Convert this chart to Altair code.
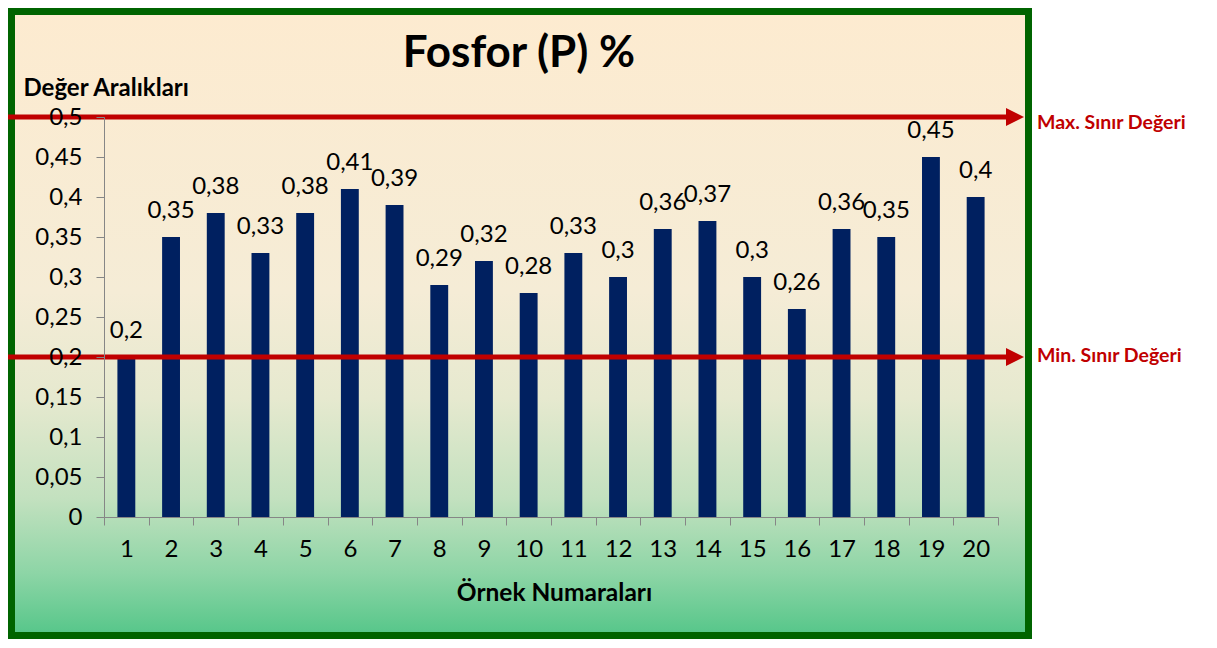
import altair as alt
import pandas as pd

samples = [str(i) for i in range(1, 21)]
values = [0.20, 0.35, 0.38, 0.33, 0.38, 0.41, 0.39, 0.29, 0.32, 0.28,
          0.33, 0.30, 0.36, 0.37, 0.30, 0.26, 0.36, 0.35, 0.45, 0.40]
value_labels = [str(v).replace(".", ",") for v in values]
y_ticks = [0, 0.05, 0.1, 0.15, 0.2, 0.25, 0.3, 0.35, 0.4, 0.45, 0.5]
max_name, max_value = "Max. Sınır Değeri", 0.5
min_name, min_value = "Min. Sınır Değeri", 0.2
title_text = "Fosfor (P) %"
y_title = "Değer Aralıkları"
x_title = "Örnek Numaraları"

W, H = 894, 400
FONT = "Lato"
RED = "#C00000"

df = pd.DataFrame({"sample": samples, "value": values, "label": value_labels})
limits = pd.DataFrame({"value": [max_value, min_value], "name": [max_name, min_name]})
one = pd.DataFrame({"k": [0]})

x_enc = alt.X(
    "sample:N", sort=samples,
    scale=alt.Scale(paddingInner=0, paddingOuter=0),
    axis=alt.Axis(
        title=x_title, labelAngle=0, tickBand="extent", tickSize=8,
        domainColor="#868686", tickColor="#868686", domainWidth=1,
        labelFont=FONT, labelFontSize=24, labelColor="black", labelPadding=12,
        titleFont=FONT, titleFontSize=24.5, titleFontWeight="bold", titleColor="black",
        titleX=450, titleY=83, titleBaseline="alphabetic", titleAlign="center",
        zindex=1,
    ),
)
y_axis = alt.Axis(
    values=y_ticks, tickCount=11, grid=False, tickSize=8, labelOverlap=False,
    labelExpr="replace(format(datum.value, '.2~f'), '.', ',')",
    domainColor="#868686", tickColor="#868686",
    labelFont=FONT, labelFontSize=24, labelColor="black", labelPadding=14,
    title=y_title, titleAngle=0, titleX=-81, titleY=-22,
    titleAlign="left", titleBaseline="alphabetic",
    titleFont=FONT, titleFontSize=24, titleFontWeight="bold", titleColor="black",
    zindex=1,
)
y_scale = alt.Scale(domain=[0, 0.5], nice=False, zero=True)
y_enc = alt.Y("value:Q", scale=y_scale, axis=y_axis)

gradient = alt.LinearGradient(
    gradient="linear", x1=0, x2=0, y1=0, y2=1,
    stops=[
        alt.GradientStop(offset=0.0, color="#FDEBD0"),
        alt.GradientStop(offset=0.45, color="#F5ECD6"),
        alt.GradientStop(offset=0.62, color="#E6E9CF"),
        alt.GradientStop(offset=0.78, color="#C3E1BF"),
        alt.GradientStop(offset=0.9, color="#8DD5A6"),
        alt.GradientStop(offset=1.0, color="#55C689"),
    ],
)

bg = alt.Chart(one).mark_rect(fill=gradient, stroke="#006400", strokeWidth=7).encode(
    x=alt.value(-92.5), x2=alt.value(924.5), y=alt.value(-105.5), y2=alt.value(518.5)
)

base = alt.Chart(df).encode(x=x_enc, y=y_enc)
bars = base.mark_bar(color="#002060", width=alt.RelativeBandSize(0.4))
labels = base.mark_text(dy=-19, baseline="alphabetic", font=FONT, fontSize=24, color="black").encode(
    text="label:N"
)

lim = alt.Chart(limits).encode(y=y_enc)
rules = lim.mark_rule(color=RED, strokeWidth=5).encode(x=alt.value(-96), x2=alt.value(906))
arrows = lim.mark_point(shape="M-1,-1L1,0L-1,1Z", filled=True, size=324, color=RED, opacity=1).encode(
    x=alt.value(911)
)
max_txt = alt.Chart(limits[limits["name"] == max_name]).mark_text(
    align="left", baseline="alphabetic", dy=12, font=FONT, fontSize=19.5, fontWeight="bold", color=RED
).encode(y=y_enc, x=alt.value(933), text="name:N")
min_txt = alt.Chart(limits[limits["name"] == min_name]).mark_text(
    align="left", baseline="alphabetic", dy=5, font=FONT, fontSize=19.5, fontWeight="bold", color=RED
).encode(y=y_enc, x=alt.value(933), text="name:N")

title = alt.Chart(one).mark_text(
    align="center", baseline="alphabetic", font=FONT, fontSize=44, fontWeight="bold", color="black"
).encode(x=alt.value(415), y=alt.value(-50), text=alt.value(title_text))

chart = alt.layer(bg, bars, labels, rules, arrows, max_txt, min_txt, title).properties(
    width=W, height=H, autosize="none",
    padding={"left": 96, "top": 109, "right": 211, "bottom": 123},
    background="white",
).configure_view(stroke=None)

chart.save("out.html", embed_options={"renderer": "svg", "actions": False})
